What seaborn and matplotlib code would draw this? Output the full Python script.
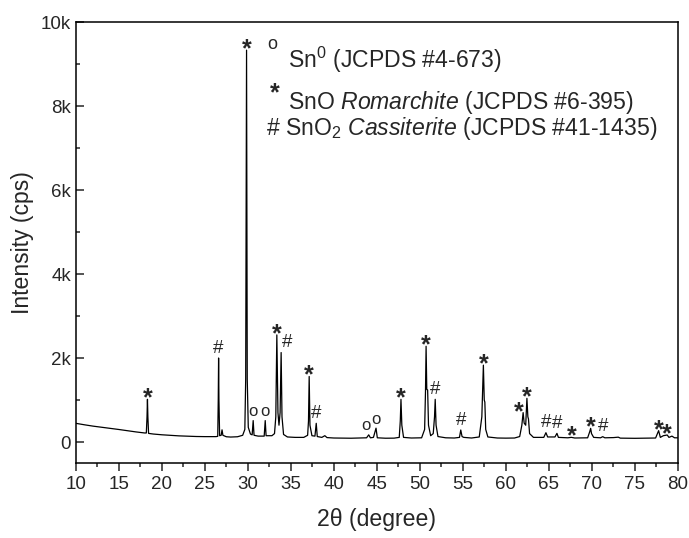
import matplotlib
matplotlib.use("Agg")
import matplotlib.pyplot as plt
import seaborn as sns

# XRD pattern, vertices (2theta in degree, intensity in cps)
two_theta = [10.0, 11.0, 12.0, 13.0, 14.0, 15.0, 16.0, 17.0, 18.0,
             18.2, 18.28, 18.33, 18.38, 18.46,
             19.0, 20.0, 21.0, 22.0, 23.0, 24.0, 25.0, 26.3,
             26.5, 26.56, 26.6, 26.64, 26.72, 26.9, 27.0, 27.1, 27.5, 28.0, 28.8,
             29.4, 29.65, 29.75, 29.85, 29.93, 30.05, 30.3,
             30.5, 30.62, 30.72, 31.2, 31.9, 32.02, 32.12, 32.8,
             33.1, 33.25, 33.37, 33.5, 33.62, 33.75, 33.87, 33.97, 34.15, 34.6,
             35.5, 36.5, 36.95, 37.05, 37.13, 37.22, 37.45, 37.8, 37.95, 38.07,
             38.6, 38.95, 39.2, 40.0, 41.0, 42.0, 43.0, 43.8, 44.05, 44.25,
             44.6, 44.9, 45.05, 46.0, 47.0, 47.6, 47.72, 47.8, 47.9, 48.1,
             49.0, 50.2, 50.55, 50.65, 50.72, 50.8, 50.9, 51.0, 51.25,
             51.55, 51.7, 51.78, 51.88, 52.1, 53.0, 54.0, 54.6, 54.75, 54.9,
             55.1, 56.0, 56.9, 57.2, 57.38, 57.48, 57.55, 57.65, 57.9,
             59.0, 60.0, 61.0, 61.6, 61.85, 62.0, 62.12, 62.3, 62.44, 62.55,
             62.62, 62.75, 63.2, 64.4, 64.65, 64.85, 65.7, 65.93, 66.1, 67.2,
             67.6, 68.0, 69.5, 69.75, 69.85, 69.95, 70.2, 71.0, 71.25, 71.5,
             72.5, 73.06, 73.3, 75.0, 77.4, 77.75, 77.95, 78.3, 78.75, 78.95,
             79.3, 79.6, 80.0]
intensity = [445, 410, 378, 352, 325, 298, 268, 240, 215,
             215, 600, 1017, 600, 205,
             190, 172, 158, 146, 138, 131, 128, 128,
             135, 1000, 2000, 1000, 150, 160, 290, 160, 125, 118, 125,
             160, 300, 1500, 9330, 1500, 350, 190,
             170, 510, 160, 140, 140, 510, 150, 150,
             200, 600, 2550, 700, 400, 700, 2130, 600, 180, 120,
             110, 110, 160, 500, 1560, 400, 150, 140, 445, 130,
             110, 150, 105, 95, 92, 90, 95, 100, 170, 100,
             110, 330, 100, 90, 92, 110, 500, 1016, 400, 110,
             95, 100, 300, 1200, 2280, 1250, 1240, 400, 150,
             200, 600, 1016, 400, 130, 100, 95, 110, 286, 130,
             110, 95, 120, 600, 1830, 1000, 950, 300, 120,
             95, 92, 95, 130, 400, 700, 450, 400, 1040, 600,
             550, 200, 110, 110, 222, 120, 120, 206, 110, 100,
             111, 95, 100, 250, 325, 200, 110, 100, 127, 100,
             105, 115, 92, 88, 95, 270, 110, 150, 167, 110,
             140, 100, 100]

# phase marks above the peaks
mark_pos = [18.33, 26.6, 29.85, 30.62, 32.02, 33.37, 33.87, 37.13, 37.95,
            44.05, 44.9, 47.8, 50.72, 51.78, 54.75, 57.38, 62.0, 62.44,
            64.65, 65.93, 67.6, 69.85, 71.25, 77.75, 78.75]
mark_top = [1017, 2000, 9330, 510, 510, 2550, 2130, 1560, 445,
            170, 330, 1016, 2280, 1016, 286, 1830, 700, 1040,
            222, 206, 111, 325, 127, 270, 167]
mark_sym = ["*", "#", "*", "o", "o", "*", "#", "*", "#",
            "o", "o", "*", "*", "#", "#", "*", "*", "*",
            "#", "#", "*", "*", "#", "*", "*"]

sns.set_style("ticks")
plt.rcParams["font.family"] = ["Liberation Sans", "DejaVu Sans"]
plt.rcParams["mathtext.fontset"] = "custom"
plt.rcParams["mathtext.rm"] = "Liberation Sans"
plt.rcParams["mathtext.it"] = "Liberation Sans:italic"

fig = plt.figure(figsize=(6.89, 5.38), dpi=100)
ax = fig.add_axes([0.110, 0.1394, 0.874, 0.8197])

sns.lineplot(x=two_theta, y=intensity, ax=ax, color="black", lw=0.9,
             estimator=None, sort=False)

# offsets in points for each kind of mark
dy = {"*": 0.5, "#": 7, "o": 6.5}
dx = {33.87: 4.5, 62.0: -3.5, 44.05: -2}
size = {"*": 18, "#": 13.5, "o": 12}
weight = {"*": "bold", "#": "normal", "o": "normal"}
for x, y, s in zip(mark_pos, mark_top, mark_sym):
    ax.annotate(s, (x, y), xytext=(dx.get(x, 0), dy[s]), textcoords="offset points",
                ha="center", va="center", fontsize=size[s], fontweight=weight[s])

# legend block
ax.text(0.326, 0.950, "o", transform=ax.transAxes, ha="center", va="center", fontsize=13)
ax.text(0.352, 0.915, r"Sn$^{0}$ (JCPDS #4-673)", transform=ax.transAxes,
        ha="left", va="center", fontsize=16.6)
ax.text(0.331, 0.838, "*", transform=ax.transAxes, ha="center", va="center",
        fontsize=18, fontweight="bold")
ax.text(0.352, 0.818, r"SnO $\mathit{Romarchite}$ (JCPDS #6-395)", transform=ax.transAxes,
        ha="left", va="center", fontsize=16.6)
ax.text(0.316, 0.758, r"# SnO$_{2}$ $\mathit{Cassiterite}$ (JCPDS #41-1435)",
        transform=ax.transAxes, ha="left", va="center", fontsize=16.6)

ax.set_xlim(10, 80)
ax.set_ylim(-500, 10000)
ax.set_xticks(range(10, 81, 5))
ax.set_xticks([x + 2.5 for x in range(10, 80, 5)], minor=True)
ax.set_yticks([0, 2000, 4000, 6000, 8000, 10000])
ax.set_yticklabels(["0", "2k", "4k", "6k", "8k", "10k"])
ax.set_yticks([1000, 3000, 5000, 7000, 9000], minor=True)
ax.tick_params(axis="x", which="major", direction="out", length=6, width=1.1, labelsize=13.5)
ax.tick_params(axis="x", which="minor", direction="out", length=3, width=1.1)
ax.tick_params(axis="y", which="major", direction="in", length=6, width=1.1, labelsize=13.5)
ax.tick_params(axis="y", which="minor", direction="in", length=3, width=1.1)
for sp in ax.spines.values():
    sp.set_linewidth(1.1)
    sp.set_color("black")

ax.set_xlabel("2θ (degree)", fontsize=16.6, labelpad=11)
ax.set_ylabel("Intensity (cps)", fontsize=16.6, labelpad=5)

fig.savefig("out.png", dpi=100)
